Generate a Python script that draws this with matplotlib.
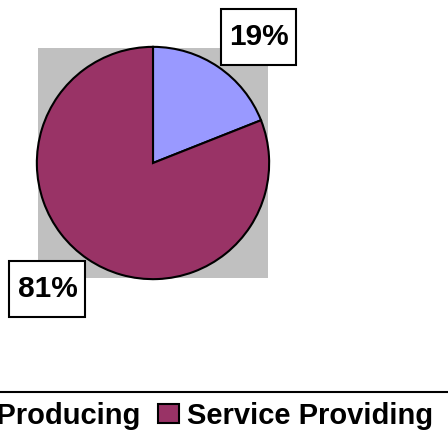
import matplotlib
matplotlib.use('Agg')
import matplotlib.pyplot as plt
from matplotlib.lines import Line2D
from matplotlib.path import Path
import numpy as np

sectors = ['Goods Producing', 'Service Providing']
shares = [19, 81]
colors = ['#9999FF', '#993366']

plt.rcParams['font.family'] = ['Liberation Sans', 'DejaVu Sans']
plt.rcParams['font.weight'] = 'bold'

fig = plt.figure(figsize=(4.48, 4.40), dpi=100)
ax = fig.add_axes([38/448, 1 - 278/440, 230/448, 230/440])

wedges, _ = ax.pie(shares, colors=colors, startangle=90, counterclock=False,
                   radius=1.01, wedgeprops=dict(edgecolor='black', linewidth=1.5))
ax.set_frame_on(True)
ax.set_facecolor('#C0C0C0')
for s in ax.spines.values():
    s.set_visible(False)
ax.set_xticks([])
ax.set_yticks([])
ax.set_xlim(-1, 1)
ax.set_ylim(-1, 1)
ax.set_aspect('equal')

padx, pady = 0.27, 0.46


def label_box(x0, y0, width, height, mutation_size):
    px, py = padx * mutation_size, pady * mutation_size
    x0, y0 = x0 - px, y0 - py
    x1, y1 = x0 + width + 2 * px, y0 + height + 2 * py
    return Path([(x0, y0), (x1, y0), (x1, y1), (x0, y1), (x0, y0)], closed=True)


# percentage labels boxed, corner placed at wedge edge
fs = 21.5
fs_px = fs * 100 / 72
for w, v in zip(wedges, shares):
    mid = np.deg2rad((w.theta1 + w.theta2) / 2)
    cx, cy = np.cos(mid), np.sin(mid)
    ha = 'left' if cx > 0 else 'right'
    va = 'bottom' if cy > 0 else 'top'
    offx = (padx * fs_px + 3) * 72 / 100
    offy = (pady * fs_px + 3) * 72 / 100
    ox = offx if cx > 0 else -offx
    oy = offy if cy > 0 else -offy
    ax.annotate(f'{v}%', xy=(cx, cy), xytext=(ox, oy), textcoords='offset points',
                ha=ha, va=va, fontsize=fs, fontweight='bold',
                bbox=dict(boxstyle=label_box, facecolor='white',
                          edgecolor='black', linewidth=1.5),
                annotation_clip=False)

fig.add_artist(Line2D([0, 1], [1 - 392/440] * 2, color='black', linewidth=1.5,
                      transform=fig.transFigure))

fig.legend(wedges, sectors, loc='center right', ncol=2,
           bbox_to_anchor=(433/448, 1 - 416/440), bbox_transform=fig.transFigure,
           frameon=False, borderpad=0, borderaxespad=0,
           prop=dict(size=21, weight='bold'),
           handlelength=0.72, handleheight=0.62, handletextpad=0.27, columnspacing=0.6)

fig.savefig('out.png', dpi=100)
